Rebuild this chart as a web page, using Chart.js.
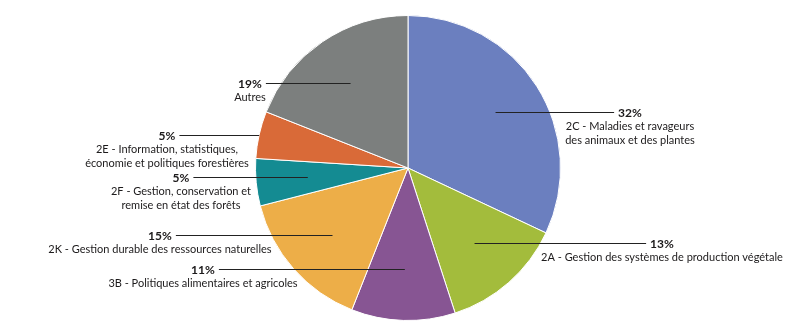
<!DOCTYPE html>
<html>
<head>
<meta charset="utf-8">
<script src="https://cdn.jsdelivr.net/npm/chart.js@4.4.1/dist/chart.umd.min.js"></script>
<style>
  html, body { margin: 0; background: #fff; }
</style>
</head>
<body>
<canvas id="pieChart" width="800" height="335"></canvas>
<script>
// Slices, clockwise from 12 o'clock
const categories = [
    ['2C - Maladies et ravageurs', 'des animaux et des plantes'],
    ['2A - Gestion des systèmes de production végétale'],
    ['3B - Politiques alimentaires et agricoles'],
    ['2K - Gestion durable des ressources naturelles'],
    ['2F - Gestion, conservation et', 'remise en état des forêts'],
    ['2E - Information, statistiques,', 'économie et politiques forestières'],
    ['Autres']
];
const shares = [32, 13, 11, 15, 5, 5, 19];
const sliceColors = ['#6b7fbf', '#a3bc3c', '#875593', '#edae48', '#148b92', '#d96a38', '#7c7f7e'];

// label placement: centre x of each text block, and how deep into the slice the leader starts
const labelCentreX = [630, 662, 203, 160, 181, 167, 250];
const leaderDepth = [0.68, 0.66, 0.66, 0.66, 0.66, 1.0, 0.67];

const FONT = '"Lato", "Open Sans", sans-serif';
const LINE_H = 13.6;

const leaderLabels = {
    id: 'leaderLabels',
    afterDraw(chart) {
        const ctx = chart.ctx;
        const arcs = chart.getDatasetMeta(0).data;
        ctx.save();
        arcs.forEach((arc, i) => {
            const mid = (arc.startAngle + arc.endAngle) / 2;
            const r = arc.outerRadius * leaderDepth[i];
            const ax = arc.x + Math.cos(mid) * r;
            const ay = Math.round(arc.y + Math.sin(mid) * r);
            const lx = labelCentreX[i];

            ctx.font = 'bold 12px ' + FONT;
            const pct = shares[i] + '%';
            const w = ctx.measureText(pct).width;

            // leader line
            ctx.strokeStyle = '#222';
            ctx.lineWidth = 1;
            ctx.beginPath();
            if (lx > ax) {
                ctx.moveTo(ax, ay + 0.5);
                ctx.lineTo(lx - w / 2 - 4, ay + 0.5);
            } else {
                ctx.moveTo(lx + w / 2 + 4, ay + 0.5);
                ctx.lineTo(ax, ay + 0.5);
            }
            ctx.stroke();

            ctx.fillStyle = '#1c1a1b';
            ctx.textAlign = 'center';
            ctx.textBaseline = 'middle';
            ctx.fillText(pct, lx, ay + 1);

            ctx.font = '11px ' + FONT;
            categories[i].forEach((line, k) => {
                ctx.fillText(line, lx, ay + 1 + LINE_H * (k + 1));
            });
        });
        ctx.restore();
    }
};

new Chart(document.getElementById('pieChart').getContext('2d'), {
    type: 'pie',
    data: {
        labels: categories.map(c => c.join(' ')),
        datasets: [{
            data: shares,
            backgroundColor: sliceColors,
            borderColor: '#ffffff',
            borderWidth: 1
        }]
    },
    options: {
        responsive: false,
        animation: false,
        layout: { padding: { left: 16, right: 0, top: 15, bottom: 14 } },
        plugins: {
            legend: { display: false },
            tooltip: { enabled: false }
        }
    },
    plugins: [leaderLabels]
});
</script>
</body>
</html>
